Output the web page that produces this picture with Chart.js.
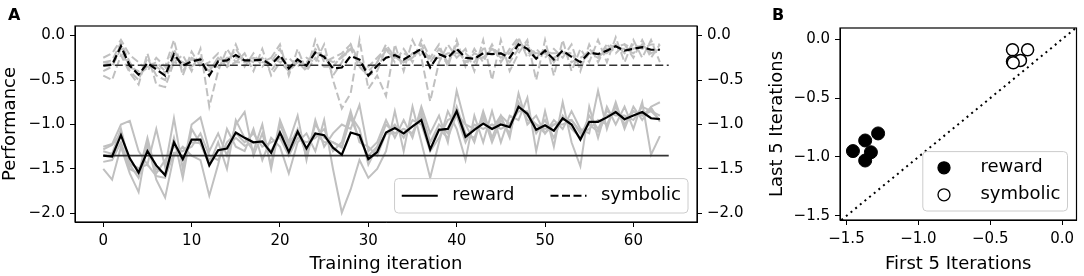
<!DOCTYPE html>
<html>
<head>
<meta charset="utf-8">
<script src="https://cdn.jsdelivr.net/npm/chart.js@4.4.1/dist/chart.umd.min.js"></script>
<style>
  body { margin: 0; background: #fff; }
  #wrap { position: relative; width: 1084px; height: 276px; overflow: hidden; }
  canvas { position: absolute; top: 0; }
  .tag { position: absolute; font: bold 16px 'DejaVu Sans'; line-height: 16px; color: #000; }
</style>
</head>
<body>
<div id="wrap">
  <canvas id="perfChart" width="755" height="276" style="left:0"></canvas>
  <canvas id="scatterChart" width="324" height="276" style="left:760px"></canvas>
  <div class="tag" style="left:8px;top:7px">A</div>
  <div class="tag" style="left:772px;top:7px">B</div>
</div>
<script>
// ---- data ----
const iterations = [0,1,2,3,4,5,6,7,8,9,10,11,12,13,14,15,16,17,18,19,20,21,22,23,24,25,26,27,28,29,30,31,
  32,33,34,35,36,37,38,39,40,41,42,43,44,45,46,47,48,49,50,51,52,53,54,55,56,57,58,59,60,61,62,63];
const iterTicks = [0, 10, 20, 30, 40, 50, 60];
const perfTicks = [-2, -1.5, -1, -0.5, 0];
const scatterTicks = [-1.5, -1, -0.5, 0];

const baselineSpan = [0, 64];
const rewardBaseline = -1.35;
const symbolicBaseline = -0.335;

const rewardMean = [-1.35,-1.36,-1.12,-1.38,-1.54,-1.30,-1.46,-1.57,-1.20,-1.39,
  -1.17,-1.17,-1.46,-1.29,-1.27,-1.09,-1.15,-1.20,-1.19,-1.32,
  -1.09,-1.31,-1.08,-1.27,-1.10,-1.12,-1.26,-1.34,-1.09,-1.12,
  -1.39,-1.31,-1.09,-1.04,-1.10,-1.02,-0.95,-1.28,-1.06,-1.05,
  -0.85,-1.14,-1.06,-0.99,-1.05,-1.00,-1.03,-0.80,-0.88,-1.06,
  -1.01,-1.07,-0.93,-1.00,-1.17,-0.97,-0.97,-0.92,-0.86,-0.94,
  -0.90,-0.86,-0.93,-0.94];
const symbolicMean = [-0.34,-0.33,-0.12,-0.34,-0.44,-0.31,-0.38,-0.45,-0.21,-0.34,
  -0.29,-0.27,-0.45,-0.29,-0.28,-0.22,-0.28,-0.28,-0.27,-0.33,
  -0.22,-0.37,-0.27,-0.34,-0.19,-0.24,-0.37,-0.36,-0.23,-0.27,
  -0.45,-0.34,-0.25,-0.22,-0.27,-0.21,-0.15,-0.36,-0.21,-0.25,
  -0.15,-0.25,-0.26,-0.20,-0.21,-0.20,-0.25,-0.10,-0.15,-0.26,
  -0.17,-0.27,-0.17,-0.24,-0.30,-0.19,-0.21,-0.17,-0.12,-0.17,
  -0.15,-0.13,-0.16,-0.16];

const rewardRun1 = [-1.25,-1.22,-1.00,-0.96,-1.30,-1.45,-1.05,-1.48,-0.93,-1.50,
  -1.00,-0.92,-1.30,-1.10,-1.35,-1.00,-0.86,-1.35,-1.10,-1.45,
  -0.95,-1.20,-0.90,-1.40,-0.95,-1.25,-1.10,-1.00,-1.05,-0.78,
  -1.30,-1.20,-0.95,-1.15,-0.95,-1.15,-0.80,-1.10,-0.90,-1.20,
  -0.62,-1.00,-1.20,-0.85,-1.15,-0.90,-1.15,-0.65,-1.00,-0.90,
  -1.10,-0.95,-1.05,-0.85,-1.05,-1.10,-0.62,-1.05,-0.75,-1.05,
  -0.80,-0.95,-0.80,-0.75];
const rewardRun2 = [-1.50,-1.62,-1.25,-1.55,-1.76,-1.20,-1.62,-1.82,-1.35,-1.25,
  -1.35,-1.40,-1.80,-1.45,-1.05,-1.25,-1.30,-1.05,-1.40,-1.15,
  -1.25,-1.55,-1.20,-1.10,-1.30,-0.95,-1.50,-1.99,-1.73,-1.40,
  -1.60,-1.50,-1.30,-0.85,-1.30,-0.80,-1.20,-1.60,-1.20,-0.85,
  -1.05,-1.40,-0.90,-1.20,-0.85,-1.20,-0.90,-0.95,-0.70,-1.30,
  -0.85,-1.25,-0.75,-1.20,-1.47,-0.80,-1.15,-0.80,-1.00,-0.80,
  -1.05,-0.75,-1.34,-1.13];
const rewardRun3 = [-1.30,-1.33,-1.05,-1.45,-1.60,-1.25,-1.50,-1.55,-1.15,-1.60,
  -1.05,-1.22,-1.45,-1.20,-1.50,-0.95,-1.15,-1.30,-1.00,-1.50,
  -1.00,-1.25,-1.05,-1.35,-1.00,-1.15,-1.20,-1.25,-0.90,-1.05,
  -1.45,-1.25,-1.00,-1.10,-1.05,-1.10,-0.85,-1.20,-1.00,-1.10,
  -0.80,-1.10,-1.15,-0.90,-1.20,-0.95,-1.10,-0.75,-0.95,-1.00,
  -1.05,-1.00,-1.00,-0.95,-1.10,-1.05,-0.95,-1.00,-0.80,-1.00,
  -0.85,-0.90,-0.85,-0.90];
const rewardRun4 = [-1.42,-1.40,-1.20,-1.50,-1.55,-1.15,-1.55,-1.40,-1.25,-1.30,
  -1.25,-1.10,-1.35,-1.40,-1.20,-1.10,-1.20,-1.10,-1.25,-1.20,
  -1.15,-1.35,-1.15,-1.20,-1.15,-1.05,-1.30,-1.20,-0.85,-1.20,
  -1.25,-1.35,-1.10,-1.00,-1.15,-0.95,-1.00,-1.30,-1.15,-0.95,
  -0.90,-1.20,-1.00,-1.05,-1.00,-1.05,-1.00,-0.85,-0.85,-1.10,
  -0.95,-1.15,-0.90,-1.05,-1.15,-0.90,-1.05,-0.85,-0.90,-0.90,
  -0.95,-0.80,-0.85,-0.95];
const rewardRun5 = [-1.28,-1.23,-1.10,-1.44,-1.49,-1.45,-1.58,-1.60,-1.32,-1.30,
  -1.20,-1.21,-1.40,-1.30,-1.25,-1.15,-1.24,-1.20,-1.20,-1.30,
  -1.10,-1.20,-1.10,-1.30,-1.10,-1.20,-1.20,-1.26,-0.92,-1.17,
  -1.35,-1.25,-1.10,-1.10,-1.05,-1.10,-0.90,-1.20,-1.05,-1.15,
  -0.88,-1.00,-1.05,-0.95,-1.05,-0.90,-1.00,-0.80,-0.90,-1.00,
  -1.10,-1.00,-0.95,-0.95,-1.08,-1.00,-1.08,-0.90,-0.85,-0.95,
  -0.85,-0.90,-0.81,-0.97];

const symbolicRun1 = [-0.25,-0.20,-0.05,-0.22,-0.30,-0.40,-0.25,-0.35,-0.05,-0.45,
  -0.18,-0.35,-0.30,-0.20,-0.35,-0.10,-0.35,-0.20,-0.35,-0.25,
  -0.10,-0.45,-0.15,-0.40,-0.05,-0.30,-0.25,-0.20,-0.10,-0.30,
  -0.35,-0.25,-0.15,-0.30,-0.15,-0.30,-0.05,-0.25,-0.10,-0.35,
  -0.05,-0.35,-0.15,-0.30,-0.10,-0.30,-0.15,-0.02,-0.25,-0.15,
  -0.25,-0.15,-0.25,-0.10,-0.40,-0.10,-0.30,-0.10,-0.20,-0.10,
  -0.25,-0.05,-0.25,-0.10];
const symbolicRun2 = [-0.45,-0.50,-0.22,-0.42,-0.55,-0.20,-0.55,-0.58,-0.30,-0.22,
  -0.40,-0.15,-0.80,-0.40,-0.15,-0.30,-0.20,-0.40,-0.15,-0.45,
  -0.30,-0.25,-0.35,-0.25,-0.30,-0.10,-0.50,-0.82,-0.65,-0.05,
  -0.60,-0.45,-0.68,-0.10,-0.40,-0.05,-0.25,-0.74,-0.30,-0.10,
  -0.25,-0.15,-0.40,-0.05,-0.50,-0.05,-0.40,-0.20,-0.05,-0.50,
  -0.05,-0.45,-0.05,-0.40,-0.15,-0.30,-0.05,-0.30,-0.02,-0.30,
  -0.05,-0.25,-0.05,-0.30];
const symbolicRun3 = [-0.30,-0.28,-0.08,-0.30,-0.45,-0.35,-0.30,-0.40,-0.15,-0.40,
  -0.25,-0.30,-0.40,-0.25,-0.30,-0.15,-0.30,-0.25,-0.30,-0.30,
  -0.15,-0.40,-0.25,-0.35,-0.15,-0.25,-0.30,-0.25,-0.15,-0.30,
  -0.40,-0.30,-0.10,-0.25,-0.20,-0.25,-0.10,-0.30,-0.15,-0.30,
  -0.10,-0.30,-0.20,-0.25,-0.15,-0.25,-0.20,-0.05,-0.20,-0.20,
  -0.20,-0.20,-0.20,-0.20,-0.35,-0.15,-0.25,-0.15,-0.15,-0.15,
  -0.20,-0.10,-0.20,-0.15];
const symbolicRun4 = [-0.40,-0.35,-0.15,-0.40,-0.50,-0.25,-0.45,-0.50,-0.25,-0.30,
  -0.35,-0.25,-0.35,-0.35,-0.25,-0.25,-0.25,-0.30,-0.25,-0.40,
  -0.25,-0.35,-0.30,-0.30,-0.20,-0.20,-0.45,-0.30,-0.10,-0.35,
  -0.45,-0.40,-0.15,-0.20,-0.30,-0.20,-0.20,-0.25,-0.25,-0.20,
  -0.20,-0.20,-0.30,-0.15,-0.15,-0.20,-0.30,-0.15,-0.10,-0.25,
  -0.15,-0.30,-0.15,-0.30,-0.25,-0.20,-0.20,-0.20,-0.10,-0.20,
  -0.10,-0.15,-0.10,-0.10];
const symbolicRun5 = [-0.30,-0.32,-0.10,-0.36,-0.40,-0.35,-0.35,-0.42,-0.30,-0.33,
  -0.27,-0.30,-0.40,-0.25,-0.35,-0.30,-0.30,-0.25,-0.30,-0.25,
  -0.30,-0.40,-0.30,-0.40,-0.25,-0.35,-0.35,-0.23,-0.15,-0.35,
  -0.45,-0.30,-0.17,-0.25,-0.30,-0.25,-0.15,-0.26,-0.25,-0.30,
  -0.15,-0.30,-0.25,-0.25,-0.15,-0.20,-0.20,-0.08,-0.15,-0.20,
  -0.20,-0.25,-0.20,-0.20,-0.35,-0.20,-0.25,-0.10,-0.13,-0.10,
  -0.15,-0.10,-0.20,-0.15];

// panel B: mean of first 5 vs last 5 iterations, one point per run
const rewardFirst5 = [-1.455, -1.37, -1.28, -1.33, -1.37];
const rewardLast5 = [-0.95, -0.86, -0.80, -0.96, -1.03];
const symbolicFirst5 = [-0.345, -0.24, -0.345, -0.29, -0.34];
const symbolicLast5 = [-0.09, -0.09, -0.19, -0.18, -0.20];
const diagonalSpan = [-1.6, 0.2];

// ---- helpers ----
Chart.defaults.font.family = "'DejaVu Sans', sans-serif";
Chart.defaults.color = '#000';

const GRAY = '#c0c0c0';
const DASH = [8, 3.5];
const toPoints = ys => ys.map((y, i) => ({ x: iterations[i], y }));
const flatLine = y => baselineSpan.map(x => ({ x, y }));
const minusFmt = v => (v < 0 ? '\u2212' : '') + Math.abs(v).toFixed(1);
const fixTicks = list => s => { s.ticks = list.map(v => ({ value: v })); };

function axisStyle(extra) {
  return Object.assign({
    type: 'linear',
    grid: { drawOnChartArea: false, tickLength: 5, color: '#000', lineWidth: 1 },
    border: { color: '#000', width: 1 },
    ticks: { font: { size: 15 }, color: '#000', padding: 5, maxRotation: 0, autoSkip: false, callback: minusFmt },
  }, extra);
}

function legendBox(ctx, x, y, w, h) {
  ctx.beginPath();
  ctx.roundRect(x, y, w, h, 4);
  ctx.fillStyle = 'rgba(255,255,255,0.8)';
  ctx.fill();
  ctx.strokeStyle = '#cccccc';
  ctx.lineWidth = 1;
  ctx.stroke();
}

const frame = {
  id: 'frame',
  afterDraw(chart) {
    const { ctx, chartArea: a } = chart;
    ctx.save();
    ctx.strokeStyle = '#000';
    ctx.lineWidth = 1.2;
    ctx.strokeRect(a.left, a.top, a.right - a.left, a.bottom - a.top);
    ctx.restore();
  }
};

const lineLegend = {
  id: 'lineLegend',
  afterDatasetsDraw(chart) {
    const { ctx, chartArea: a } = chart;
    const fs = 18;
    const items = [{ label: 'reward', dash: [] }, { label: 'symbolic', dash: DASH }];
    ctx.save();
    ctx.font = fs + "px 'DejaVu Sans'";
    const widths = items.map(it => ctx.measureText(it.label).width);
    const pad = 0.4 * fs, handle = 2 * fs, gap = 0.8 * fs, colGap = 2 * fs;
    const w = 2 * pad + items.length * (handle + gap) + widths[0] + widths[1] + colGap;
    const h = 2 * pad + 20;
    const x0 = a.right - 0.5 * fs - w, y0 = a.bottom - 0.5 * fs - h;
    legendBox(ctx, x0, y0, w, h);
    let x = x0 + pad;
    const cy = y0 + h / 2;
    items.forEach((it, i) => {
      ctx.beginPath();
      ctx.setLineDash(it.dash);
      ctx.strokeStyle = '#000';
      ctx.lineWidth = 2;
      ctx.moveTo(x, cy);
      ctx.lineTo(x + handle, cy);
      ctx.stroke();
      ctx.setLineDash([]);
      ctx.fillStyle = '#000';
      ctx.textBaseline = 'middle';
      ctx.fillText(it.label, x + handle + gap, cy);
      x += handle + gap + widths[i] + colGap;
    });
    ctx.restore();
  }
};

const markerLegend = {
  id: 'markerLegend',
  afterDatasetsDraw(chart) {
    const { ctx, chartArea: a } = chart;
    const fs = 18;
    const items = [{ label: 'reward', fill: '#000' }, { label: 'symbolic', fill: '#fff' }];
    ctx.save();
    ctx.font = fs + "px 'DejaVu Sans'";
    const tw = Math.max(...items.map(it => ctx.measureText(it.label).width));
    const pad = 0.4 * fs, handle = 2 * fs, gap = 0.8 * fs, rowGap = 0.5 * fs;
    const w = 2 * pad + handle + gap + tw;
    const h = 2 * pad + items.length * fs + rowGap;
    const x0 = a.right - 0.5 * fs - w, y0 = a.bottom - 0.5 * fs - h;
    legendBox(ctx, x0, y0, w, h);
    items.forEach((it, i) => {
      const cy = y0 + pad + fs / 2 + i * (fs + rowGap);
      ctx.beginPath();
      ctx.arc(x0 + pad + handle / 2 - 4, cy, 6, 0, Math.PI * 2);
      ctx.fillStyle = it.fill;
      ctx.fill();
      ctx.strokeStyle = '#000';
      ctx.lineWidth = 1.3;
      ctx.stroke();
      ctx.fillStyle = '#000';
      ctx.textBaseline = 'middle';
      ctx.fillText(it.label, x0 + pad + handle + gap, cy);
    });
    ctx.restore();
  }
};

// ---- panel A ----
const grayRun = (ys, dashed) => ({
  data: toPoints(ys), borderColor: GRAY, borderWidth: 2, borderDash: dashed ? DASH : [],
  pointRadius: 0, order: 3
});

new Chart(document.getElementById('perfChart').getContext('2d'), {
  type: 'line',
  data: {
    datasets: [
      { data: toPoints(rewardMean), borderColor: '#000', borderWidth: 2.2, pointRadius: 0, order: 0 },
      { data: toPoints(symbolicMean), borderColor: '#000', borderWidth: 2.2, borderDash: DASH, pointRadius: 0, order: 0 },
      { data: flatLine(rewardBaseline), borderColor: '#333', borderWidth: 1.6, pointRadius: 0, order: 1 },
      { data: flatLine(symbolicBaseline), borderColor: '#333', borderWidth: 1.6, borderDash: DASH, pointRadius: 0, order: 1 },
      grayRun(rewardRun1), grayRun(rewardRun2), grayRun(rewardRun3), grayRun(rewardRun4), grayRun(rewardRun5),
      grayRun(symbolicRun1, true), grayRun(symbolicRun2, true), grayRun(symbolicRun3, true),
      grayRun(symbolicRun4, true), grayRun(symbolicRun5, true),
    ]
  },
  options: {
    responsive: false,
    animation: false,
    events: [],
    layout: { padding: { top: 26 } },
    plugins: { legend: { display: false }, tooltip: { enabled: false } },
    scales: {
      x: axisStyle({
        min: -3.2, max: 67.2,
        afterBuildTicks: fixTicks(iterTicks),
        afterFit: s => { s.height = 54; },
        ticks: { font: { size: 15 }, color: '#000', padding: 5, maxRotation: 0, autoSkip: false, callback: v => String(v) },
        title: { display: true, text: 'Training iteration', font: { size: 18 }, color: '#000', padding: { top: 0, bottom: 1 } }
      }),
      y: axisStyle({
        position: 'left', min: -2.096, max: 0.107,
        afterBuildTicks: fixTicks(perfTicks),
        afterFit: s => { s.width = 75; },
        title: { display: true, text: 'Performance', font: { size: 18 }, color: '#000', padding: { top: 0 } }
      }),
      yRight: axisStyle({
        position: 'right', min: -2.096, max: 0.107,
        afterBuildTicks: fixTicks(perfTicks),
        afterFit: s => { s.width = 58; }
      })
    }
  },
  plugins: [frame, lineLegend]
});

// ---- panel B ----
const pairs = (xs, ys) => xs.map((x, i) => ({ x, y: ys[i] }));

new Chart(document.getElementById('scatterChart').getContext('2d'), {
  type: 'scatter',
  data: {
    datasets: [
      { data: pairs(rewardFirst5, rewardLast5), backgroundColor: '#000', borderColor: '#000', borderWidth: 1, pointRadius: 6.5 },
      { data: pairs(symbolicFirst5, symbolicLast5), backgroundColor: '#fff', borderColor: '#000', borderWidth: 1.5, pointRadius: 6 },
      { data: pairs(diagonalSpan, diagonalSpan), showLine: true, borderColor: '#000', borderWidth: 2,
        borderDash: [2, 4], pointRadius: 0 }
    ]
  },
  options: {
    responsive: false,
    animation: false,
    events: [],
    layout: { padding: { top: 28, right: 3 } },
    plugins: { legend: { display: false }, tooltip: { enabled: false } },
    scales: {
      x: axisStyle({
        min: -1.545, max: 0.10,
        afterBuildTicks: fixTicks(scatterTicks),
        afterFit: s => { s.height = 56; },
        title: { display: true, text: 'First 5 Iterations', font: { size: 18 }, color: '#000', padding: { top: 0, bottom: 1 } }
      }),
      y: axisStyle({
        min: -1.535, max: 0.095,
        afterBuildTicks: fixTicks(scatterTicks),
        afterFit: s => { s.width = 80; },
        title: { display: true, text: 'Last 5 Iterations', font: { size: 18 }, color: '#000', padding: { top: 7 } }
      })
    }
  },
  plugins: [frame, markerLegend]
});
</script>
</body>
</html>
